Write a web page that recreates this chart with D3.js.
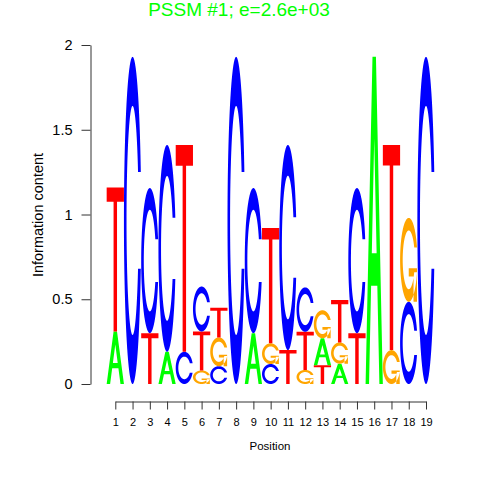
<!DOCTYPE html>
<html>
<head>
<meta charset="utf-8">
<script src="https://cdn.jsdelivr.net/npm/d3@7"></script>
<style>
  body { margin: 0; background: #fff; }
  svg { display: block; }
  text { font-family: "Liberation Sans", Arial, sans-serif; }
</style>
</head>
<body>
<div id="chart"></div>
<script>
// information content of each base at positions 1..19
const positions = [1, 2, 3, 4, 5, 6, 7, 8, 9, 10, 11, 12, 13, 14, 15, 16, 17, 18, 19];
const heightA = [0.31, 0, 0, 0.19, 0, 0, 0, 0, 0.30, 0, 0, 0, 0.16, 0.12, 0, 1.93, 0, 0, 0];
const heightC = [0, 1.93, 0.856, 1.22, 0.19, 0.265, 0.105, 1.93, 0.856, 0.118, 1.21, 0.262, 0, 0, 0.856, 0, 0, 0.485, 1.93];
const heightG = [0, 0, 0, 0, 0, 0.08, 0.17, 0, 0, 0.122, 0, 0.083, 0.165, 0.125, 0, 0, 0.2, 0.495, 0];
const heightT = [0.85, 0, 0.30, 0, 1.22, 0.23, 0.175, 0, 0, 0.68, 0.2, 0.225, 0.11, 0.25, 0.30, 0, 1.21, 0, 0];
const yTicks = [0, 0.5, 1, 1.5, 2];
const title = "PSSM #1; e=2.6e+03";

const colors = { A: "#00ff00", C: "#0000ff", G: "#ffa500", T: "#ff0000" };

const svg = d3.select("#chart")
    .append("svg")
    .attr("width", 480)
    .attr("height", 480);

const x = d3.scaleLinear().domain([1, 19]).range([115.3, 426]);
const y = d3.scaleLinear().domain([0, 2]).range([384, 45]);

// letter outlines in a unit box (seqLogo style polygons)
function cShape() {
    const a1 = d3.range(100).map(i => 0.3 + Math.PI / 2 + i * (Math.PI / 2 - 0.3) / 99);
    const a2 = d3.range(100).map(i => Math.PI + i * (Math.PI / 2) / 99);
    const l = a1.concat(a2).map(a => [0.5 + 0.5 * Math.sin(a), 0.5 + 0.5 * Math.cos(a)]);
    const maxY = 0.5 + 0.5 * Math.cos(a1[0]);
    let i1 = a1.map(a => [0.5 + 0.35 * Math.sin(a), 0.5 + 0.35 * Math.cos(a)]).filter(p => p[1] <= maxY);
    i1[0] = [i1[0][0], maxY];
    const inner = i1.concat(a2.map(a => [0.5 + 0.35 * Math.sin(a), 0.5 + 0.35 * Math.cos(a)]));
    const outer = l.concat(l.slice().reverse().map(p => [p[0], 1 - p[1]]));
    const inn = inner.concat(inner.slice().reverse().map(p => [p[0], 1 - p[1]]));
    return outer.concat(inn.reverse());
}

const shapes = {
    A: [
        [[0, 0], [0.4, 1], [0.6, 1], [1, 0], [0.8, 0], [0.68, 0.3], [0.32, 0.3], [0.2, 0], [0, 0]],
        [[0.36, 0.4], [0.5, 0.75], [0.64, 0.4], [0.36, 0.4]]
    ],
    T: [[[0, 1], [1, 1], [1, 0.9], [0.6, 0.9], [0.6, 0], [0.4, 0], [0.4, 0.9], [0, 0.9]]],
    C: [cShape()],
    G: (() => {
        const c = cShape();
        const r1 = 0.5 + 0.5 * Math.sin(0.3 + Math.PI / 2);
        const h1 = 0.4;
        return [c, [[r1, h1], [0.5, h1], [0.5, h1 - 0.1], [r1 - 0.2, h1 - 0.1], [r1 - 0.2, 0], [r1, 0], [r1, h1]]];
    })()
};

// stack letters per column, smallest at the bottom
const letters = [];
positions.forEach((p, i) => {
    const col = [
        { base: "A", h: heightA[i] },
        { base: "C", h: heightC[i] },
        { base: "G", h: heightG[i] },
        { base: "T", h: heightT[i] }
    ].filter(d => d.h > 0).sort((a, b) => a.h - b.h);
    let y0 = 0;
    col.forEach(d => {
        letters.push({ pos: p, base: d.base, y0: y0, h: d.h });
        y0 += d.h;
    });
});

const line = d3.line();

svg.append("g")
    .selectAll("path")
    .data(letters)
    .enter()
    .append("path")
    .attr("fill", d => colors[d.base])
    .attr("fill-rule", "evenodd")
    .attr("d", d => {
        const x0 = x(d.pos - 0.5), x1 = x(d.pos + 0.5);
        return shapes[d.base].map(poly =>
            line(poly.map(([u, v]) => [x0 + u * (x1 - x0), y(d.y0 + v * d.h)])) + "Z"
        ).join("");
    });

// axes
const yAxis = svg.append("g")
    .attr("transform", "translate(90.5,0)")
    .call(d3.axisLeft(y).tickValues(yTicks).tickSize(9).tickSizeOuter(0).tickPadding(9).tickFormat(d => String(d)));

const xAxis = svg.append("g")
    .attr("transform", "translate(0,401.5)")
    .call(d3.axisBottom(x).tickValues(positions).tickSize(8).tickSizeOuter(0).tickPadding(9).tickFormat(d => String(d)));

[yAxis, xAxis].forEach(g => {
    g.attr("font-family", null);
    g.selectAll("path, line").attr("stroke", "#333");
    g.selectAll("text").attr("fill", "#000");
});
yAxis.attr("font-size", 14.5);
xAxis.attr("font-size", 11);

svg.append("text")
    .attr("x", 270)
    .attr("y", 450)
    .attr("text-anchor", "middle")
    .style("font-size", "11.5px")
    .text("Position");

svg.append("text")
    .attr("transform", "rotate(-90)")
    .attr("x", -215)
    .attr("y", 43)
    .attr("text-anchor", "middle")
    .style("font-size", "14.5px")
    .text("Information content");

svg.append("text")
    .attr("x", 239)
    .attr("y", 15.5)
    .attr("text-anchor", "middle")
    .attr("fill", "#00ff00")
    .style("font-size", "19px")
    .text(title);
</script>
</body>
</html>
